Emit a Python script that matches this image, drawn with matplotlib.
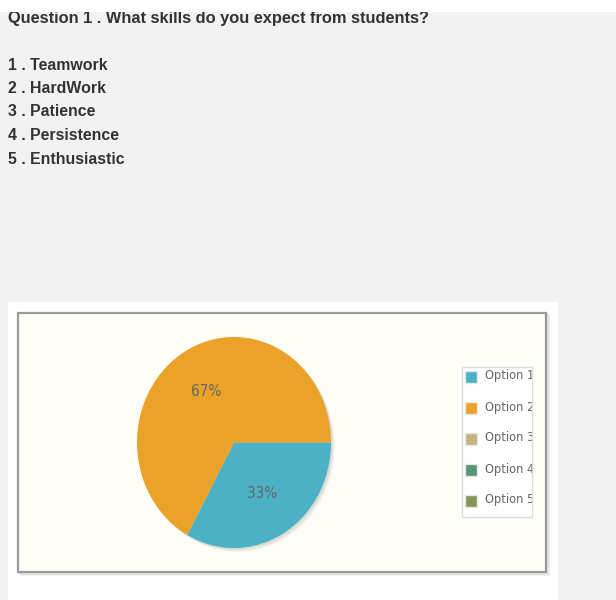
import matplotlib.pyplot as plt
from matplotlib.patches import Rectangle

# survey text
question = "Question 1 . What skills do you expect from students?"
skills = ["Teamwork", "HardWork", "Patience", "Persistence", "Enthusiastic"]

# pie data (jqPlot default colours)
options = ["Option 1", "Option 2", "Option 3", "Option 4", "Option 5"]
shares = [33, 67, 0, 0, 0]
colors = ["#4bb2c5", "#eaa228", "#c5b47f", "#579575", "#839557"]

chart_font = ["Liberation Sans Narrow", "DejaVu Sans"]
frame_bg = "#fffdf7"

fig = plt.figure(figsize=(6.16, 6.0), dpi=100)
fig.patch.set_facecolor("#f3f2f2")

# pixel axes for the page
bg = fig.add_axes([0, 0, 1, 1])
bg.set_xlim(0, 616)
bg.set_ylim(600, 0)
bg.axis("off")

bg.add_patch(Rectangle((0, 0), 616, 12, fc="white", ec="none", zorder=5))
bg.text(8, 19, question, fontsize=11.8, fontweight="bold", color="#333333",
        family="Liberation Sans", va="center", zorder=2)
for i, s in enumerate(skills):
    bg.text(8, 65 + i * 23.5, "{} . {}".format(i + 1, s), fontsize=11.4,
            fontweight="bold", color="#333333", family="Liberation Sans", va="center")

# white panel and chart frame
bg.add_patch(Rectangle((8, 302), 550, 300, fc="white", ec="none"))
for k in range(1, 4):
    bg.add_patch(Rectangle((18 + k, 313 + k), 528, 259, fc="none",
                           ec="black", alpha=0.06, lw=1.2))
bg.add_patch(Rectangle((18, 313), 528, 259, fc=frame_bg, ec="#9a9a9a", lw=1.6))

# legend (labels run past the box edge and get cut, like the original)
bg.add_patch(Rectangle((462, 367), 70, 150, fc="white", ec="none", zorder=3))
for i, (lab, c) in enumerate(zip(options, colors)):
    y = 377 + i * 31
    bg.add_patch(Rectangle((465, y - 6), 12, 12, fc=c, ec="#e8e8e8", lw=1, zorder=4))
    bg.text(485, y - 1, lab, fontsize=9.2, color="#666666", family=chart_font,
            fontstretch="condensed", va="center", ha="left", zorder=4)
bg.add_patch(Rectangle((532, 366), 12, 152, fc=frame_bg, ec="none", zorder=5))
bg.add_patch(Rectangle((462, 367), 70, 150, fc="none", ec="#dddddd", lw=1, zorder=6))

# pie axes (elliptical, as in the original)
ax = fig.add_axes([137 / 616, 1 - 548 / 600, 194 / 616, 211 / 600])
for k in (3, 2, 1):
    off = 0.012 * k
    ax.pie([sum(shares)], colors=["black"], startangle=0, counterclock=False,
           center=(off, -off), wedgeprops=dict(alpha=0.05, lw=0))
wedges, texts, autotexts = ax.pie(
    shares, colors=colors, startangle=0, counterclock=False,
    autopct=lambda p: "" if p == 0 else "%.0f%%" % p, pctdistance=0.56,
    wedgeprops=dict(lw=0),
    textprops=dict(color="#666666", fontsize=11, family=chart_font,
                   fontstretch="condensed"))
ax.set_aspect("auto")
ax.set_xlim(-1, 1)
ax.set_ylim(-1, 1)
ax.axis("off")

fig.savefig("out.png", dpi=100, facecolor=fig.get_facecolor())
